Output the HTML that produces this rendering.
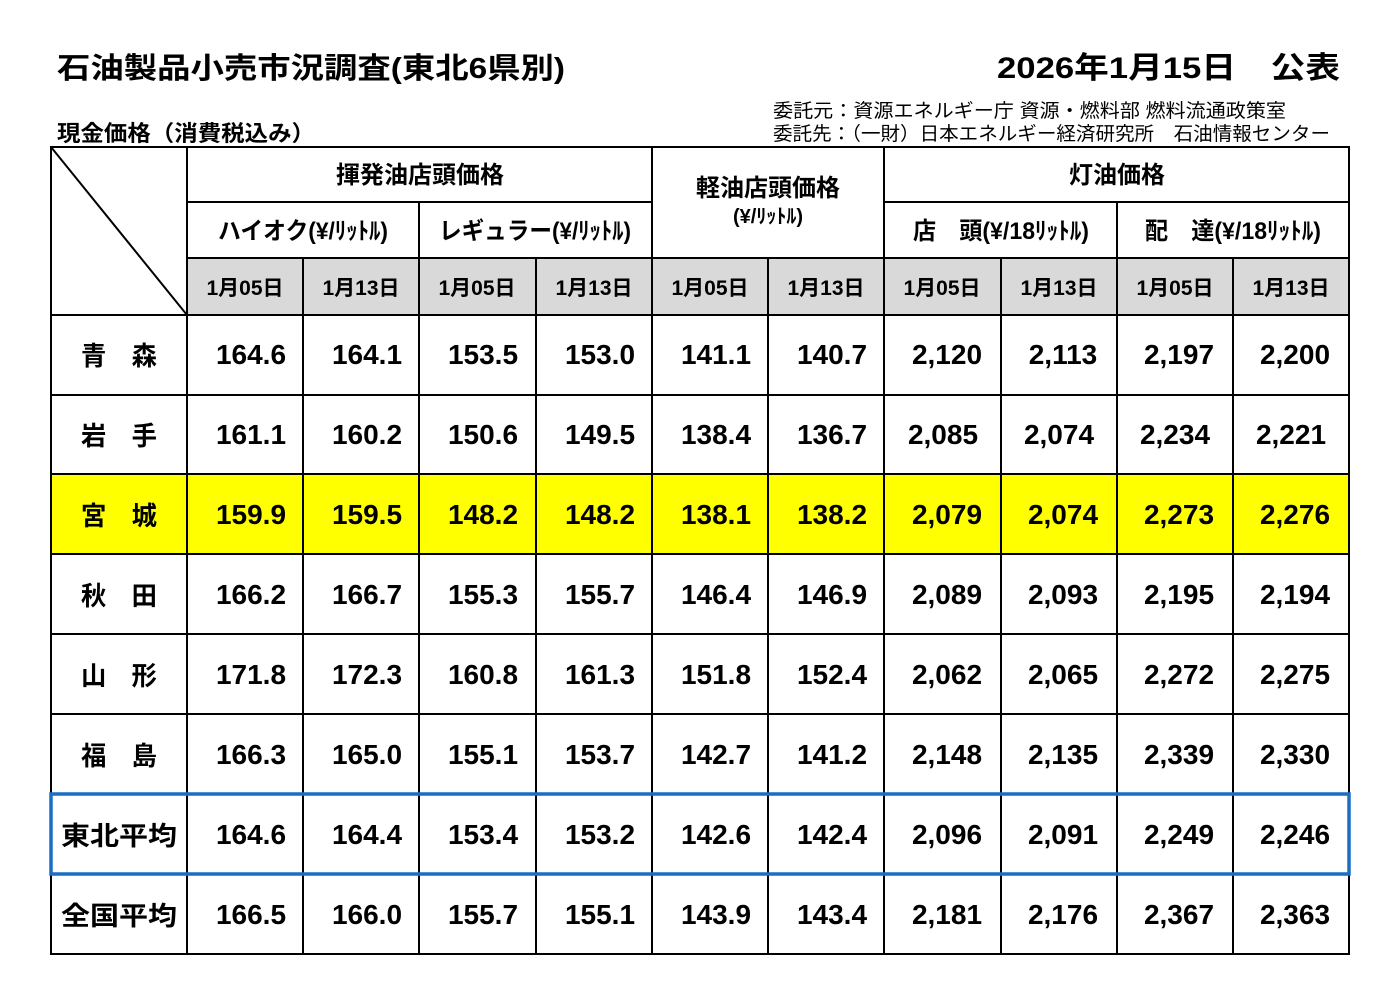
<!DOCTYPE html>
<html><head><meta charset="utf-8"><style>
html,body{margin:0;padding:0;background:#fff}
svg{display:block}
text{font-family:"Liberation Sans","Noto Sans CJK JP",sans-serif;fill:#000}
.n{font-size:28px;font-weight:bold;text-anchor:middle}
.l{font-size:26px;font-weight:bold;text-anchor:middle}
.d{font-size:21px;font-weight:bold;text-anchor:middle}
.h{font-size:24px;font-weight:bold;text-anchor:middle}
</style></head><body>
<svg width="1400" height="990" viewBox="0 0 1400 990">
<text x="57" y="78" textLength="508" lengthAdjust="spacingAndGlyphs" style="font-size:29px;font-weight:bold">石油製品小売市況調査(東北6県別)</text>
<text x="997" y="78" textLength="343" lengthAdjust="spacingAndGlyphs" style="font-size:30px;font-weight:bold">2026年1月15日　公表</text>
<text x="773" y="117" textLength="513" lengthAdjust="spacingAndGlyphs" style="font-size:19px">委託元：資源エネルギー庁 資源・燃料部 燃料流通政策室</text>
<text x="773" y="140" textLength="557" lengthAdjust="spacingAndGlyphs" style="font-size:19px">委託先：（一財）日本エネルギー経済研究所　石油情報センター</text>
<text x="57" y="141" textLength="258" lengthAdjust="spacingAndGlyphs" style="font-size:22px;font-weight:bold">現金価格（消費税込み）</text>
<rect x="187" y="258" width="1162" height="57" fill="#d9d9d9"/>
<rect x="51" y="474" width="1298" height="80" fill="#ffff00"/>
<g stroke="#000" stroke-width="2" fill="none">
<rect x="51" y="147" width="1298" height="807"/>
<line x1="51" y1="147" x2="187" y2="315"/>
<line x1="187" y1="202" x2="652" y2="202"/><line x1="884" y1="202" x2="1349" y2="202"/>
<line x1="187" y1="258" x2="1349" y2="258"/>
<line x1="51" y1="315" x2="1349" y2="315"/>
<line x1="51" y1="395" x2="1349" y2="395"/><line x1="51" y1="474" x2="1349" y2="474"/>
<line x1="51" y1="554" x2="1349" y2="554"/><line x1="51" y1="634" x2="1349" y2="634"/>
<line x1="51" y1="714" x2="1349" y2="714"/><line x1="51" y1="794" x2="1349" y2="794"/>
<line x1="51" y1="874" x2="1349" y2="874"/>
<line x1="187" y1="147" x2="187" y2="954"/>
<line x1="652" y1="147" x2="652" y2="954"/><line x1="884" y1="147" x2="884" y2="954"/>
<line x1="419" y1="202" x2="419" y2="954"/><line x1="1117" y1="202" x2="1117" y2="954"/>
<line x1="303" y1="258" x2="303" y2="954"/><line x1="536" y1="258" x2="536" y2="954"/>
<line x1="768" y1="258" x2="768" y2="954"/><line x1="1001" y1="258" x2="1001" y2="954"/>
<line x1="1233" y1="258" x2="1233" y2="954"/>
</g>
<rect x="51" y="794" width="1298" height="80" fill="none" stroke="#1a6fc4" stroke-width="3.5"/>
<text class="h" x="420" y="183">揮発油店頭価格</text>
<text class="h" x="768" y="196">軽油店頭価格</text>
<text class="h" x="1117" y="183">灯油価格</text>
<text class="h" x="303" y="239" textLength="170" lengthAdjust="spacingAndGlyphs">ハイオク(¥/ﾘｯﾄﾙ)</text>
<text class="h" x="535" y="239" textLength="192" lengthAdjust="spacingAndGlyphs">レギュラー(¥/ﾘｯﾄﾙ)</text>
<text class="h" x="768" y="223" style="font-size:20px">(¥/ﾘｯﾄﾙ)</text>
<text class="h" x="1001" y="239" textLength="176" lengthAdjust="spacingAndGlyphs">店　頭(¥/18ﾘｯﾄﾙ)</text>
<text class="h" x="1233" y="239" textLength="176" lengthAdjust="spacingAndGlyphs">配　達(¥/18ﾘｯﾄﾙ)</text>
<text class="d" x="245" y="295">1月05日</text><text class="d" x="361" y="295">1月13日</text>
<text class="d" x="477" y="295">1月05日</text><text class="d" x="594" y="295">1月13日</text>
<text class="d" x="710" y="295">1月05日</text><text class="d" x="826" y="295">1月13日</text>
<text class="d" x="942" y="295">1月05日</text><text class="d" x="1059" y="295">1月13日</text>
<text class="d" x="1175" y="295">1月05日</text><text class="d" x="1291" y="295">1月13日</text>
<text class="l" x="119" y="365" textLength="76" lengthAdjust="spacingAndGlyphs">青　森</text>
<text class="l" x="119" y="445" textLength="76" lengthAdjust="spacingAndGlyphs">岩　手</text>
<text class="l" x="119" y="525" textLength="76" lengthAdjust="spacingAndGlyphs">宮　城</text>
<text class="l" x="119" y="605" textLength="76" lengthAdjust="spacingAndGlyphs">秋　田</text>
<text class="l" x="119" y="685" textLength="76" lengthAdjust="spacingAndGlyphs">山　形</text>
<text class="l" x="119" y="765" textLength="76" lengthAdjust="spacingAndGlyphs">福　島</text>
<text class="l" x="119" y="845" textLength="116" lengthAdjust="spacingAndGlyphs">東北平均</text>
<text class="l" x="119" y="925" textLength="116" lengthAdjust="spacingAndGlyphs">全国平均</text>
<text class="n" x="251" y="364">164.6</text><text class="n" x="367" y="364">164.1</text><text class="n" x="483" y="364">153.5</text><text class="n" x="600" y="364">153.0</text><text class="n" x="716" y="364">141.1</text><text class="n" x="832" y="364">140.7</text><text class="n" x="947" y="364">2,120</text><text class="n" x="1063" y="364">2,113</text><text class="n" x="1179" y="364">2,197</text><text class="n" x="1295" y="364">2,200</text>
<text class="n" x="251" y="444">161.1</text><text class="n" x="367" y="444">160.2</text><text class="n" x="483" y="444">150.6</text><text class="n" x="600" y="444">149.5</text><text class="n" x="716" y="444">138.4</text><text class="n" x="832" y="444">136.7</text><text class="n" x="943" y="444">2,085</text><text class="n" x="1059" y="444">2,074</text><text class="n" x="1175" y="444">2,234</text><text class="n" x="1291" y="444">2,221</text>
<text class="n" x="251" y="524">159.9</text><text class="n" x="367" y="524">159.5</text><text class="n" x="483" y="524">148.2</text><text class="n" x="600" y="524">148.2</text><text class="n" x="716" y="524">138.1</text><text class="n" x="832" y="524">138.2</text><text class="n" x="947" y="524">2,079</text><text class="n" x="1063" y="524">2,074</text><text class="n" x="1179" y="524">2,273</text><text class="n" x="1295" y="524">2,276</text>
<text class="n" x="251" y="604">166.2</text><text class="n" x="367" y="604">166.7</text><text class="n" x="483" y="604">155.3</text><text class="n" x="600" y="604">155.7</text><text class="n" x="716" y="604">146.4</text><text class="n" x="832" y="604">146.9</text><text class="n" x="947" y="604">2,089</text><text class="n" x="1063" y="604">2,093</text><text class="n" x="1179" y="604">2,195</text><text class="n" x="1295" y="604">2,194</text>
<text class="n" x="251" y="684">171.8</text><text class="n" x="367" y="684">172.3</text><text class="n" x="483" y="684">160.8</text><text class="n" x="600" y="684">161.3</text><text class="n" x="716" y="684">151.8</text><text class="n" x="832" y="684">152.4</text><text class="n" x="947" y="684">2,062</text><text class="n" x="1063" y="684">2,065</text><text class="n" x="1179" y="684">2,272</text><text class="n" x="1295" y="684">2,275</text>
<text class="n" x="251" y="764">166.3</text><text class="n" x="367" y="764">165.0</text><text class="n" x="483" y="764">155.1</text><text class="n" x="600" y="764">153.7</text><text class="n" x="716" y="764">142.7</text><text class="n" x="832" y="764">141.2</text><text class="n" x="947" y="764">2,148</text><text class="n" x="1063" y="764">2,135</text><text class="n" x="1179" y="764">2,339</text><text class="n" x="1295" y="764">2,330</text>
<text class="n" x="251" y="844">164.6</text><text class="n" x="367" y="844">164.4</text><text class="n" x="483" y="844">153.4</text><text class="n" x="600" y="844">153.2</text><text class="n" x="716" y="844">142.6</text><text class="n" x="832" y="844">142.4</text><text class="n" x="947" y="844">2,096</text><text class="n" x="1063" y="844">2,091</text><text class="n" x="1179" y="844">2,249</text><text class="n" x="1295" y="844">2,246</text>
<text class="n" x="251" y="924">166.5</text><text class="n" x="367" y="924">166.0</text><text class="n" x="483" y="924">155.7</text><text class="n" x="600" y="924">155.1</text><text class="n" x="716" y="924">143.9</text><text class="n" x="832" y="924">143.4</text><text class="n" x="947" y="924">2,181</text><text class="n" x="1063" y="924">2,176</text><text class="n" x="1179" y="924">2,367</text><text class="n" x="1295" y="924">2,363</text>
</svg>
</body></html>
